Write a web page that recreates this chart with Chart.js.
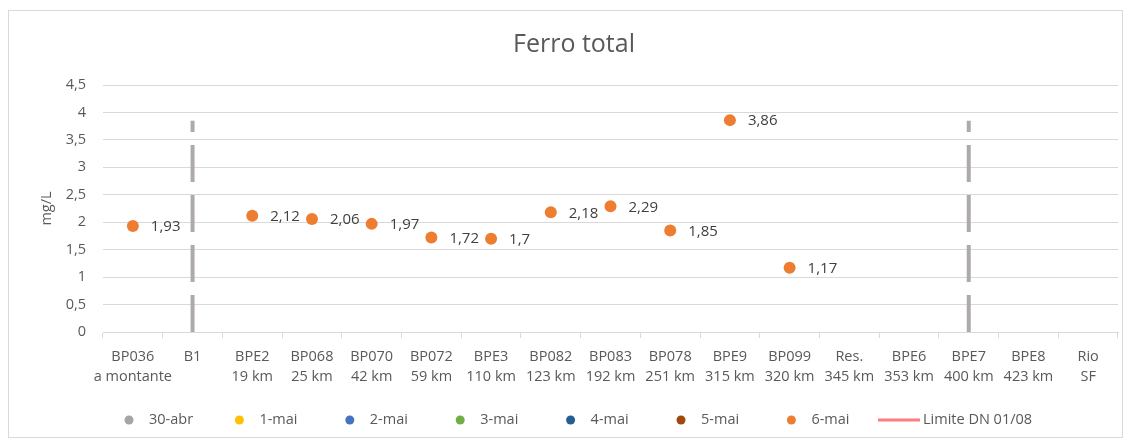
<!DOCTYPE html>
<html>
<head>
<meta charset="utf-8">
<script src="https://cdn.jsdelivr.net/npm/chart.js@4.4.1/dist/chart.umd.min.js"></script>
<style>
  html, body { margin: 0; padding: 0; background: #fff; }
  #wrap { width: 1131px; height: 441px; }
</style>
</head>
<body>
<div id="wrap"><canvas id="chart" width="1131" height="441"></canvas></div>
<script>
// Sampling points along the river and their distance
const stations = ['BP036', 'B1', 'BPE2', 'BP068', 'BP070', 'BP072', 'BPE3', 'BP082', 'BP083',
                  'BP078', 'BPE9', 'BP099', 'Res.', 'BPE6', 'BPE7', 'BPE8', 'Rio'];
const distances = ['a montante', '', '19 km', '25 km', '42 km', '59 km', '110 km', '123 km', '192 km',
                   '251 km', '315 km', '320 km', '345 km', '353 km', '400 km', '423 km', 'SF'];

// Ferro total (mg/L) measured on 6-mai
const ferro6mai = [1.93, null, 2.12, 2.06, 1.97, 1.72, 1.70, 2.18, 2.29, 1.85, 3.86, 1.17,
                   null, null, null, null, null];

// Campaign dates (only 6-mai has values in this chart)
const dateLabels = ['30-abr', '1-mai', '2-mai', '3-mai', '4-mai', '5-mai', '6-mai'];
const dateColors = ['#a5a5a5', '#ffc000', '#4472c4', '#70ad47', '#255e91', '#9e480e', '#ed7d31'];

const limiteLabel = 'Limite DN 01/08';
const limiteColor = '#ff7c80';

// Dashed separators
const separatorStations = ['B1', 'BPE7'];
const separatorTop = 3.85;

const yMin = 0, yMax = 4.5, yStep = 0.5;

const FONT = "'Open Sans', 'DejaVu Sans', sans-serif";
const TEXT = '#595959';
const GRID = '#d9d9d9';

const fmt = v => String(v).replace('.', ',');

// Build datasets
const datasets = [];
dateLabels.forEach((label, i) => {
    const values = label === '6-mai' ? ferro6mai : stations.map(() => null);
    datasets.push({
        label: label,
        data: values,
        showLine: false,
        pointStyle: 'circle',
        pointRadius: 6,
        pointHoverRadius: 6,
        pointBackgroundColor: dateColors[i],
        pointBorderColor: dateColors[i],
        pointBorderWidth: 0,
        backgroundColor: dateColors[i],
        borderColor: dateColors[i],
        withLabels: label === '6-mai',
        order: 1
    });
});
datasets.push({
    label: limiteLabel,
    data: stations.map(() => null),
    borderColor: limiteColor,
    backgroundColor: limiteColor,
    borderWidth: 3,
    pointRadius: 0,
    isLine: true,
    order: 2
});
separatorStations.forEach(st => {
    datasets.push({
        label: '',
        separator: true,
        data: [{ x: st, y: 0 }, { x: st, y: separatorTop }],
        borderColor: '#aeaaaa',
        borderWidth: 4,
        borderDash: [37, 13],
        borderCapStyle: 'butt',
        pointRadius: 0,
        order: 3
    });
});

// Chart outer border
const borderPlugin = {
    id: 'outerBorder',
    beforeDraw(chart) {
        const ctx = chart.ctx;
        ctx.save();
        ctx.fillStyle = '#fff';
        ctx.fillRect(0, 0, chart.width, chart.height);
        ctx.strokeStyle = GRID;
        ctx.lineWidth = 1;
        ctx.strokeRect(8.5, 10.5, 1114, 427);
        ctx.restore();
    }
};

// Value labels to the right of the points
const valueLabels = {
    id: 'valueLabels',
    afterDatasetsDraw(chart) {
        const ctx = chart.ctx;
        ctx.save();
        ctx.font = '15px ' + FONT;
        ctx.fillStyle = '#404040';
        ctx.textAlign = 'left';
        ctx.textBaseline = 'middle';
        chart.data.datasets.forEach((ds, di) => {
            if (!ds.withLabels) return;
            const meta = chart.getDatasetMeta(di);
            meta.data.forEach((pt, i) => {
                const v = ds.data[i];
                if (v === null || v === undefined) return;
                ctx.fillText(fmt(v), pt.x + 18, pt.y + 1);
            });
        });
        ctx.restore();
    }
};

// Legend drawn like the spreadsheet one (evenly spaced entries)
const bottomLegend = {
    id: 'bottomLegend',
    afterDraw(chart) {
        const ctx = chart.ctx;
        ctx.save();
        ctx.font = '14.5px ' + FONT;
        ctx.textBaseline = 'middle';
        ctx.textAlign = 'left';
        const items = chart.data.datasets.filter(ds => !ds.separator);
        const step = 110.4;
        const y = 420;
        items.forEach((ds, i) => {
            const cx = 129 + i * step;
            if (ds.isLine) {
                const x = 878;
                ctx.strokeStyle = ds.borderColor;
                ctx.lineWidth = 3;
                ctx.beginPath();
                ctx.moveTo(x, y);
                ctx.lineTo(x + 42, y);
                ctx.stroke();
                ctx.fillStyle = TEXT;
                ctx.fillText(ds.label, x + 45, y);
            } else {
                ctx.fillStyle = ds.backgroundColor;
                ctx.beginPath();
                ctx.arc(cx, y, 4.5, 0, Math.PI * 2);
                ctx.fill();
                ctx.fillStyle = TEXT;
                ctx.fillText(ds.label, cx + 20, y);
            }
        });
        ctx.restore();
    }
};

const ctx = document.getElementById('chart').getContext('2d');
new Chart(ctx, {
    type: 'line',
    data: { labels: stations, datasets: datasets },
    plugins: [borderPlugin, valueLabels, bottomLegend],
    options: {
        responsive: false,
        devicePixelRatio: 1,
        animation: false,
        layout: { padding: { left: 30, right: 13, top: 10, bottom: 47 } },
        plugins: {
            legend: { display: false },
            tooltip: { enabled: false },
            title: {
                display: true,
                text: 'Ferro total',
                color: TEXT,
                font: { family: FONT, size: 25, weight: 'normal' },
                padding: { top: 20, bottom: 25 }
            }
        },
        scales: {
            x: {
                type: 'category',
                offset: true,
                grid: { offset: true, drawOnChartArea: false, color: GRID, tickLength: 6 },
                border: { color: GRID },
                ticks: {
                    autoSkip: false,
                    maxRotation: 0,
                    padding: 9,
                    color: TEXT,
                    font: { family: FONT, size: 14.5, lineHeight: 1.38 },
                    callback: (v, i) => [stations[i], distances[i]]
                },
                afterFit: scale => { scale.height = 62; }
            },
            y: {
                min: yMin,
                max: yMax,
                grid: { color: GRID, drawTicks: false },
                border: { display: false },
                ticks: {
                    stepSize: yStep,
                    padding: 17,
                    color: TEXT,
                    font: { family: FONT, size: 14.5 },
                    callback: v => fmt(v)
                },
                title: {
                    display: true,
                    text: 'mg/L',
                    color: TEXT,
                    font: { family: FONT, size: 14.5 },
                    padding: { top: 8, bottom: 0 }
                },
                afterFit: scale => { scale.width = 73; }
            }
        }
    }
});
</script>
</body>
</html>
